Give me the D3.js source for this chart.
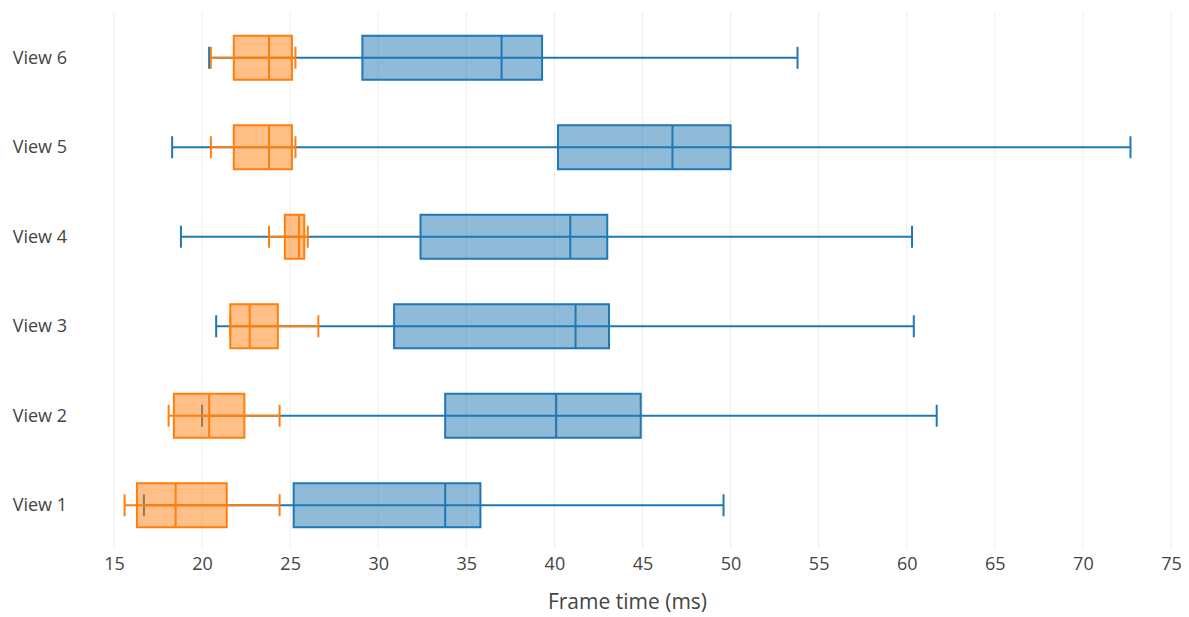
<!DOCTYPE html>
<html>
<head>
<meta charset="utf-8">
<script src="https://cdn.jsdelivr.net/npm/d3@7"></script>
<style>
  body { margin: 0; background: #fff; }
  text { font-family: "Open Sans", sans-serif; fill: #444; }
</style>
</head>
<body>
<div id="chart"></div>
<script>
var w = 1189,
    h = 617;

// categories, bottom to top
var views = ['View 1', 'View 2', 'View 3', 'View 4', 'View 5', 'View 6'];

// blue series
var blueLow  = [16.7, 20.0, 20.8, 18.8, 18.3, 20.4];
var blueQ1   = [25.2, 33.8, 30.9, 32.4, 40.2, 29.1];
var blueMed  = [33.8, 40.1, 41.2, 40.9, 46.7, 37.0];
var blueQ3   = [35.8, 44.9, 43.1, 43.0, 50.0, 39.3];
var blueHigh = [49.6, 61.7, 60.4, 60.3, 72.7, 53.8];

// orange series
var orangeLow  = [15.6, 18.1, 21.6, 23.8, 20.5, 20.5];
var orangeQ1   = [16.3, 18.4, 21.6, 24.7, 21.8, 21.8];
var orangeMed  = [18.5, 20.4, 22.7, 25.5, 23.8, 23.8];
var orangeQ3   = [21.4, 22.4, 24.3, 25.8, 25.1, 25.1];
var orangeHigh = [24.4, 24.4, 26.6, 26.0, 25.3, 25.3];

var xTicks = [15, 20, 25, 30, 35, 40, 45, 50, 55, 60, 65, 70, 75];

var series = [
  {color: '#1f77b4', fill: 'rgba(31,119,180,0.5)',
   low: blueLow, q1: blueQ1, med: blueMed, q3: blueQ3, high: blueHigh},
  {color: '#ff7f0e', fill: 'rgba(255,127,14,0.5)',
   low: orangeLow, q1: orangeQ1, med: orangeMed, q3: orangeQ3, high: orangeHigh}
];

var svg = d3.select('#chart').append('svg').attr('width', w).attr('height', h);

var x = d3.scaleLinear().domain([15, 75]).range([114, 1171]);
var y = d3.scaleBand().domain(views).range([550, 13]);

var boxH = 44,
    capH = 22;

// grid
svg.append('g')
  .selectAll('line')
  .data(xTicks)
  .enter()
  .append('line')
  .attr('x1', function (d) { return x(d); })
  .attr('x2', function (d) { return x(d); })
  .attr('y1', 12)
  .attr('y2', 549)
  .attr('stroke', '#eee')
  .attr('stroke-width', 1);

// x axis labels
var xAxis = svg.append('g')
  .attr('transform', 'translate(0,549)')
  .call(d3.axisBottom(x).tickValues(xTicks).tickSize(0).tickPadding(8));
xAxis.select('.domain').remove();
xAxis.selectAll('text').style('font-size', '18px').style('fill', '#444')
  .style('font-family', '"Open Sans", sans-serif');

// y labels
var yAxis = svg.append('g')
  .attr('transform', 'translate(67,0)')
  .call(d3.axisLeft(y).tickSize(0).tickPadding(0));
yAxis.select('.domain').remove();
yAxis.selectAll('text').style('font-size', '18px').style('fill', '#444')
  .style('font-family', '"Open Sans", sans-serif');

svg.append('text')
  .attr('x', 627.5)
  .attr('y', 609)
  .attr('text-anchor', 'middle')
  .style('font-size', '21px')
  .text('Frame time (ms)');

series.forEach(function (s) {
  var g = svg.append('g');
  views.forEach(function (v, i) {
    var cy = y(v) + y.bandwidth() / 2;
    // whisker
    g.append('line')
      .attr('x1', x(s.low[i])).attr('x2', x(s.high[i]))
      .attr('y1', cy).attr('y2', cy)
      .attr('stroke', s.color).attr('stroke-width', 2);
    // caps
    [s.low[i], s.high[i]].forEach(function (val) {
      g.append('line')
        .attr('x1', x(val)).attr('x2', x(val))
        .attr('y1', cy - capH / 2).attr('y2', cy + capH / 2)
        .attr('stroke', s.color).attr('stroke-width', 2);
    });
    // box
    g.append('rect')
      .attr('x', x(s.q1[i]))
      .attr('y', cy - boxH / 2)
      .attr('width', x(s.q3[i]) - x(s.q1[i]))
      .attr('height', boxH)
      .attr('fill', s.fill)
      .attr('stroke', s.color)
      .attr('stroke-width', 2);
    // median
    g.append('line')
      .attr('x1', x(s.med[i])).attr('x2', x(s.med[i]))
      .attr('y1', cy - boxH / 2).attr('y2', cy + boxH / 2)
      .attr('stroke', s.color).attr('stroke-width', 2);
  });
});
</script>
</body>
</html>
